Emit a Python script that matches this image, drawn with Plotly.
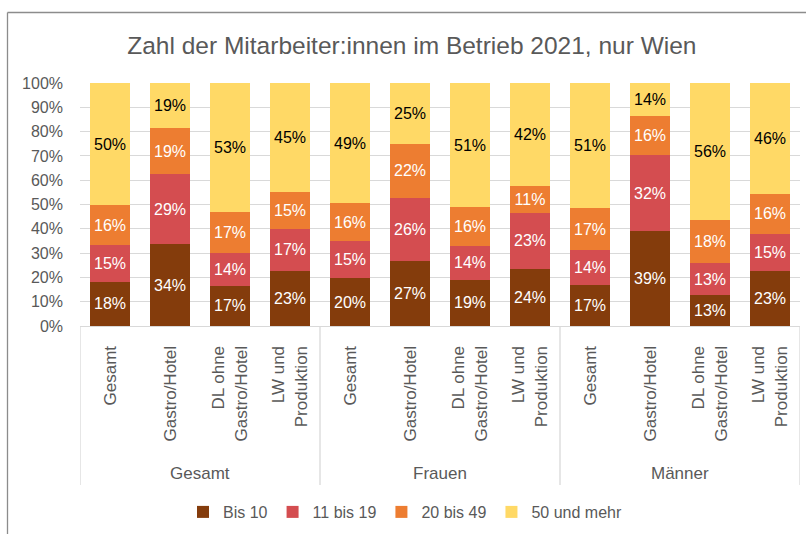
import plotly.graph_objects as go

groups = ["Gesamt", "Frauen", "Männer"]
categories = ["Gesamt", "Gastro/Hotel", "DL ohne<br>Gastro/Hotel", "LW und<br>Produktion"]
series_names = ["Bis 10", "11 bis 19", "20 bis 49", "50 und mehr"]
bis10 = [18.2, 33.6, 16.6, 22.8, 19.6, 26.6, 19.1, 23.6, 16.8, 38.9, 12.8, 22.8]
b11_19 = [15.0, 29.0, 13.6, 17.2, 15.2, 26.0, 13.9, 23.0, 14.4, 31.6, 13.0, 15.1]
b20_49 = [16.4, 18.8, 16.6, 15.1, 15.8, 22.4, 15.8, 11.2, 17.4, 15.8, 17.8, 16.4]
b50plus = [50.4, 18.6, 53.2, 44.9, 49.4, 25.0, 51.2, 42.2, 51.4, 13.7, 56.4, 45.7]
colors = ["#843C0C", "#D44D50", "#ED7D31", "#FFD966"]
text_colors = ["white", "white", "white", "black"]

keys = [f"{g}|{c}" for g in groups for c in categories]
inner = [c for _ in groups for c in categories]

fig = go.Figure()
for name, vals, col, tcol in zip(series_names, [bis10, b11_19, b20_49, b50plus], colors, text_colors):
    fig.add_trace(go.Bar(
        x=keys, y=[v / 100 for v in vals], name=name,
        marker=dict(color=col, line=dict(width=0)),
        text=[f"{round(v)}%" for v in vals], textposition="inside",
        insidetextanchor="middle", textangle=0,
        textfont=dict(color=tcol, size=16, family="Liberation Sans"),
        hoverinfo="skip",
    ))

W, H = 806, 534
L, R, T, B = 80, 6, 83, 208
pw, ph = W - L - R, H - T - B

def px_x(x):
    return (x - L) / pw

def px_y(y):
    return (H - B - y) / ph

border = "#8C8C8C"
fig.add_shape(type="line", xref="paper", yref="paper",
              x0=px_x(7.5), x1=px_x(7.5), y0=px_y(12.5), y1=px_y(H + 2),
              line=dict(color=border, width=1.3))
fig.add_shape(type="line", xref="paper", yref="paper",
              x0=px_x(7.5), x1=px_x(W + 2), y0=px_y(12.5), y1=px_y(12.5),
              line=dict(color=border, width=1.3))

n = len(categories)
for gi, g in enumerate(groups):
    # group divider (left edge of each group) and group label
    fig.add_shape(type="line", xref="x", yref="paper",
                  x0=gi * n - 0.5, x1=gi * n - 0.5, y0=0, y1=px_y(485),
                  line=dict(color="#D9D9D9", width=1.3))
    fig.add_annotation(x=gi * n + (n - 1) / 2, xref="x", y=px_y(473), yref="paper",
                       text=g, showarrow=False, yanchor="middle",
                       font=dict(size=17, color="#595959"))
fig.add_shape(type="line", xref="x", yref="paper",
              x0=len(groups) * n - 0.5, x1=len(groups) * n - 0.5, y0=0, y1=px_y(485),
              line=dict(color="#D9D9D9", width=1.3))

fig.update_layout(
    barmode="stack", bargap=0.33,
    width=W, height=H,
    margin=dict(l=L, r=R, t=T, b=B, autoexpand=False),
    paper_bgcolor="white", plot_bgcolor="white",
    font=dict(family="Liberation Sans", color="#595959", size=15),
    title=dict(text="Zahl der Mitarbeiter:innen im Betrieb 2021, nur Wien",
               x=0.511, xanchor="center", y=1 - 45 / H, yanchor="middle",
               font=dict(size=24.5, color="#595959")),
    legend=dict(orientation="h", x=px_x(405), xanchor="center", y=px_y(512), yanchor="middle",
                font=dict(size=16, color="#595959"), traceorder="normal"),
    uniformtext=dict(minsize=10, mode="show"),
)
fig.update_yaxes(range=[0, 1], tickformat=".0%", dtick=0.1, showgrid=True,
                 gridcolor="#D9D9D9", gridwidth=1, zeroline=False,
                 tickfont=dict(size=16, color="#595959"), ticks="", ticklabelstandoff=16)
fig.update_xaxes(type="category", tickvals=keys, ticktext=inner, tickangle=-90,
                 range=[-0.5, len(keys) - 0.5],
                 showline=True, linecolor="#D9D9D9", linewidth=1.3,
                 ticks="outside", ticklen=12, tickcolor="rgba(0,0,0,0)",
                 tickfont=dict(size=17, color="#595959"))

fig.write_html("out.html", config={"displayModeBar": False},
               post_script="document.body.style.margin='0';")
